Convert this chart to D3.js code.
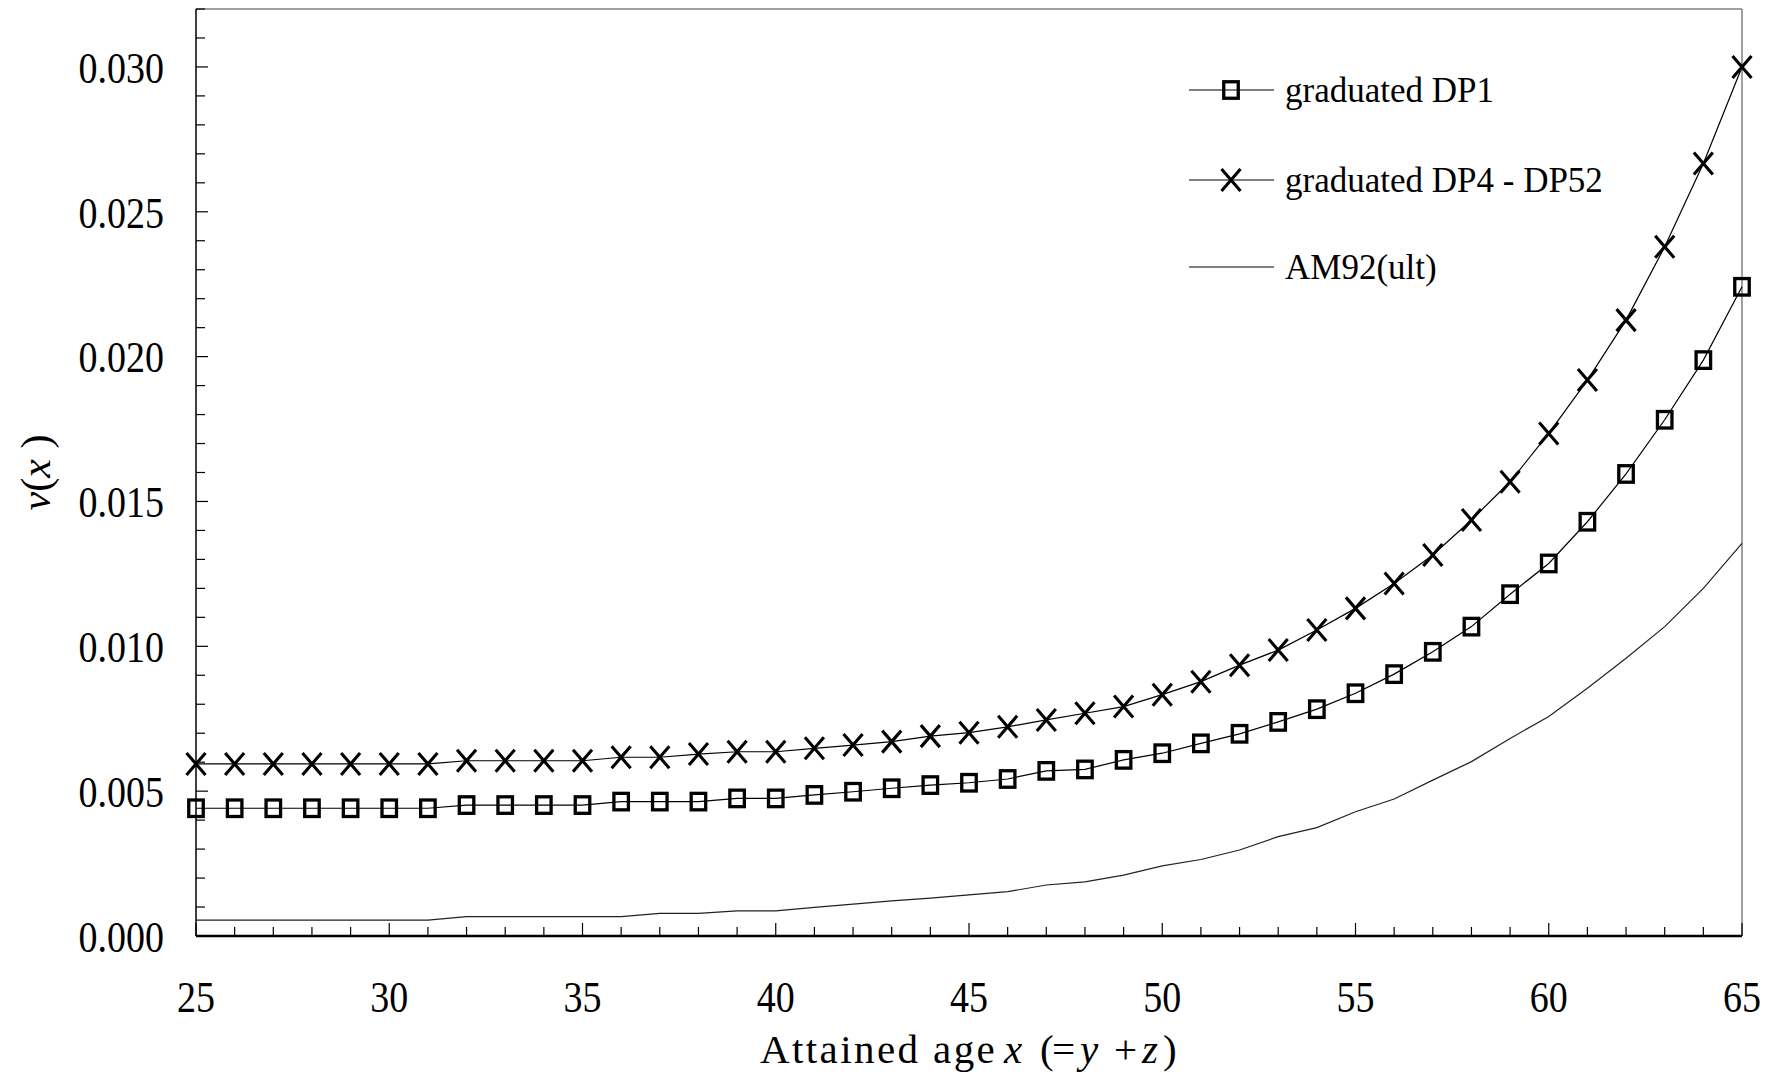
<!DOCTYPE html>
<html>
<head>
<meta charset="utf-8">
<script src="https://cdn.jsdelivr.net/npm/d3@7"></script>
<style>
  body { margin: 0; background: #fff; }
  svg text { font-family: "Liberation Serif", "DejaVu Serif", serif; fill: #000; }
</style>
</head>
<body>
<div id="chart"></div>
<script>
// attained ages
const ages = d3.range(25, 66);

// values, in units of 0.001
const dp1 = [4.41, 4.41, 4.41, 4.41, 4.41, 4.41, 4.41, 4.52, 4.52, 4.52, 4.52,
  4.64, 4.64, 4.64, 4.75, 4.75, 4.87, 4.98, 5.10, 5.21, 5.29, 5.42, 5.70, 5.75,
  6.08, 6.31, 6.65, 6.98, 7.39, 7.83, 8.38, 9.04, 9.81, 10.68, 11.80, 12.86,
  14.30, 15.95, 17.82, 19.88, 22.41];
const dp4to52 = [5.94, 5.94, 5.94, 5.94, 5.94, 5.94, 5.94, 6.05, 6.05, 6.05, 6.05,
  6.17, 6.17, 6.28, 6.36, 6.36, 6.48, 6.59, 6.71, 6.90, 7.02, 7.22, 7.46, 7.69,
  7.92, 8.33, 8.78, 9.35, 9.87, 10.56, 11.31, 12.17, 13.15, 14.36, 15.68, 17.35,
  19.19, 21.26, 23.79, 26.67, 30.00];
const am92 = [0.55, 0.55, 0.55, 0.55, 0.55, 0.55, 0.55, 0.67, 0.67, 0.67, 0.67,
  0.67, 0.78, 0.78, 0.87, 0.87, 0.99, 1.10, 1.21, 1.31, 1.42, 1.53, 1.76, 1.87,
  2.10, 2.42, 2.64, 2.97, 3.43, 3.74, 4.29, 4.73, 5.38, 6.02, 6.82, 7.58, 8.55,
  9.59, 10.68, 12.00, 13.55];

const legendLabels = ["graduated DP1", "graduated DP4 - DP52", "AM92(ult)"];
const xTicks = [25, 30, 35, 40, 45, 50, 55, 60, 65];
const yTicks = [0, 0.005, 0.010, 0.015, 0.020, 0.025, 0.030];

const width = 1772, height = 1079;
const margin = {left: 196, right: 30, top: 9, bottom: 143};
const stretch = 1.15; // the labels of the original look taller than wide

const svg = d3.select("#chart").append("svg")
  .attr("width", width)
  .attr("height", height);

const x = d3.scaleLinear().domain([25, 65]).range([margin.left, width - margin.right]);
const y = d3.scaleLinear().domain([0, 0.032]).range([height - margin.bottom, margin.top]);

const toPoints = vals => ages.map((a, i) => ({age: a, v: vals[i] / 1000}));
const sDp1 = toPoints(dp1), sDp4 = toPoints(dp4to52), sAm = toPoints(am92);

// frame: top and right in grey
svg.append("line")
  .attr("x1", x(25)).attr("x2", x(65)).attr("y1", y(0.032)).attr("y2", y(0.032))
  .attr("stroke", "#808080").attr("stroke-width", 1.5);
svg.append("line")
  .attr("x1", x(65)).attr("x2", x(65)).attr("y1", y(0.032)).attr("y2", y(0))
  .attr("stroke", "#808080").attr("stroke-width", 1.5);

// y axis, ticks pointing inwards
const yAxis = svg.append("g").attr("transform", `translate(${x(25)},0)`);
yAxis.append("line")
  .attr("y1", y(0)).attr("y2", y(0.032))
  .attr("stroke", "#000").attr("stroke-width", 1.5);
yAxis.selectAll(".ytick")
  .data(d3.range(0, 33).map(d => d / 1000))
  .enter().append("line")
  .attr("class", "ytick")
  .attr("x1", 0)
  .attr("x2", (d, i) => i % 5 === 0 ? 12 : 9)
  .attr("y1", d => y(d)).attr("y2", d => y(d))
  .attr("stroke", "#000").attr("stroke-width", 1.2);
yAxis.selectAll(".ylabel")
  .data(yTicks)
  .enter().append("text")
  .attr("class", "ylabel")
  .attr("transform", d => `translate(-32,${y(d)}) scale(1,${stretch})`)
  .attr("dy", "0.36em")
  .attr("text-anchor", "end")
  .style("font-size", "38px")
  .text(d3.format(".3f"));

// x axis, ticks pointing up
const xAxis = svg.append("g").attr("transform", `translate(0,${y(0)})`);
xAxis.selectAll(".xtick")
  .data(ages)
  .enter().append("line")
  .attr("class", "xtick")
  .attr("x1", d => x(d)).attr("x2", d => x(d))
  .attr("y1", 0)
  .attr("y2", d => d % 5 === 0 ? -13 : -9)
  .attr("stroke", "#000").attr("stroke-width", 1.2);
xAxis.append("line")
  .attr("x1", x(25)).attr("x2", x(65))
  .attr("stroke", "#000").attr("stroke-width", 2.5);
xAxis.selectAll(".xlabel")
  .data(xTicks)
  .enter().append("text")
  .attr("class", "xlabel")
  .attr("transform", d => `translate(${x(d)},76) scale(1,${stretch})`)
  .attr("text-anchor", "middle")
  .style("font-size", "38px")
  .text(d => d);

// axis titles
const cx = (x(25) + x(65)) / 2;
const xTitle = svg.append("text")
  .attr("y", 1063)
  .style("font-size", "41px");
const titleParts = [
  {t: "Attained age", dx: -209, it: false, ls: 2.4},
  {t: "x", dx: 35, it: true, ls: 0},
  {t: "(", dx: 71, it: false, ls: 0},
  {t: "=", dx: 83, it: false, ls: 0},
  {t: "y", dx: 111, it: true, ls: 0},
  {t: "+", dx: 145, it: false, ls: 0},
  {t: "z", dx: 173, it: true, ls: 0},
  {t: ")", dx: 194, it: false, ls: 0}
];
titleParts.forEach(p => {
  xTitle.append("tspan")
    .attr("x", cx + p.dx)
    .style("font-style", p.it ? "italic" : "normal")
    .style("letter-spacing", p.ls + "px")
    .text(p.t);
});

const yTitle = svg.append("text")
  .attr("transform", `translate(50,${(y(0) + y(0.032)) / 2}) rotate(-90)`)
  .attr("text-anchor", "middle")
  .style("font-size", "42px");
yTitle.append("tspan").style("font-style", "italic").text("ν");
yTitle.append("tspan").text("(");
yTitle.append("tspan").style("font-style", "italic").text("x");
yTitle.append("tspan").text(" )");

// lines
const line = d3.line().x(d => x(d.age)).y(d => y(d.v));

svg.append("path").datum(sAm)
  .attr("d", line).attr("fill", "none")
  .attr("stroke", "#222").attr("stroke-width", 1.2);
svg.append("path").datum(sDp1)
  .attr("d", line).attr("fill", "none")
  .attr("stroke", "#000").attr("stroke-width", 1.2);
svg.append("path").datum(sDp4)
  .attr("d", line).attr("fill", "none")
  .attr("stroke", "#000").attr("stroke-width", 1.2);

// markers
const sqW = 14.5, sqH = 16.5, crW = 9.5, crH = 11;
function drawSquare(g, px, py) {
  g.append("rect")
    .attr("x", px - sqW / 2).attr("y", py - sqH / 2)
    .attr("width", sqW).attr("height", sqH)
    .attr("fill", "none").attr("stroke", "#000").attr("stroke-width", 3.3);
}
function drawCross(g, px, py) {
  g.append("path")
    .attr("d", `M${px - crW},${py - crH}L${px + crW},${py + crH}M${px - crW},${py + crH}L${px + crW},${py - crH}`)
    .attr("fill", "none").attr("stroke", "#000").attr("stroke-width", 3.1);
}

const markers = svg.append("g");
sDp1.forEach(d => drawSquare(markers, x(d.age), y(d.v)));
sDp4.forEach(d => drawCross(markers, x(d.age), y(d.v)));

// legend
const legend = svg.append("g");
const legendY = [90, 180, 267];
legendLabels.forEach((label, i) => {
  const ly = legendY[i];
  legend.append("line")
    .attr("x1", 1189).attr("x2", 1274).attr("y1", ly).attr("y2", ly)
    .attr("stroke", "#000").attr("stroke-width", 1.2);
  if (i === 0) drawSquare(legend, 1231, ly);
  if (i === 1) drawCross(legend, 1231, ly);
  legend.append("text")
    .attr("x", 1285).attr("y", ly)
    .attr("dy", "0.33em")
    .style("font-size", "35px")
    .text(label);
});
</script>
</body>
</html>
